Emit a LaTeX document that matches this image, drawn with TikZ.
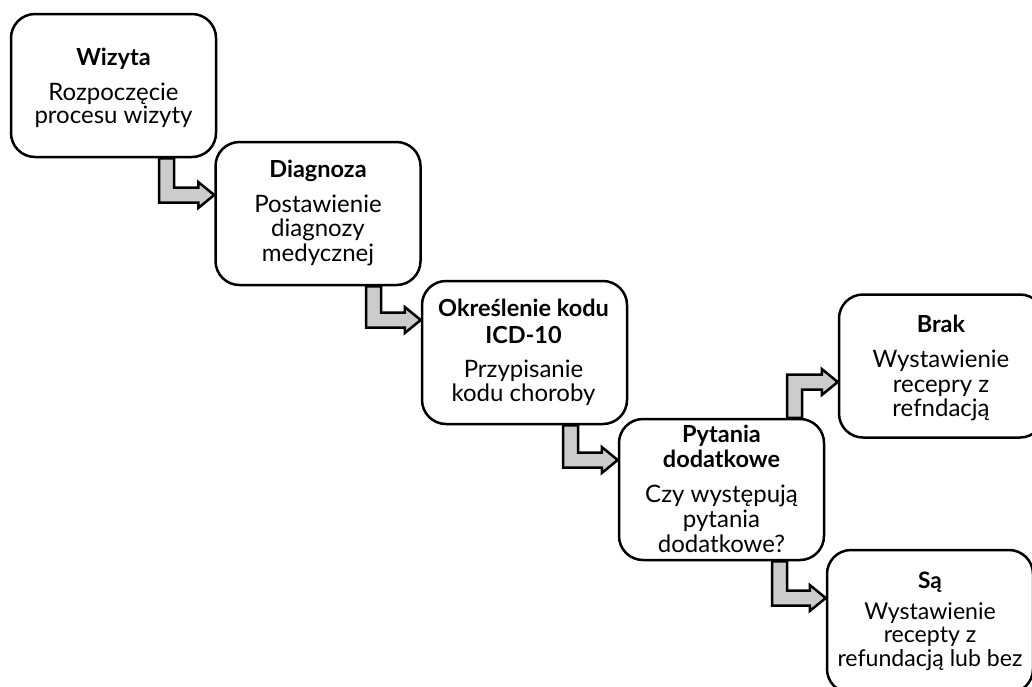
\documentclass[tikz,border=0pt]{standalone}
\usepackage{fontspec}
\setmainfont{Lato}
\usetikzlibrary{calc}
\newcommand\hdf{\bfseries\fontsize{23.5}{26}\selectfont}
\newcommand\bdf{\mdseries\fontsize{24}{24.5}\selectfont}
\newcommand\hdfs{\bfseries\fontsize{22.6}{25}\selectfont}
\newcommand\bdfs{\mdseries\fontsize{23.1}{23.6}\selectfont}
\newcommand\dnarrow[4]{%
 \draw[blockarrow] let \p1=(#1.south), \p2=(#2.west), \p3=(#3,#4) in
 (\x3,\y1) -- ({\x3+15pt},\y1) -- ({\x3+15pt},{\y3+7.5pt}) -- ({\x2-16pt},{\y3+7.5pt})
 -- ({\x2-16pt},{\y3+13pt}) -- (\x2,\y3) -- ({\x2-16pt},{\y3-13pt}) -- ({\x2-16pt},{\y3-7.5pt})
 -- (\x3,{\y3-7.5pt}) -- cycle;}
\newcommand\uparrowblk[4]{%
 \draw[blockarrow] let \p1=(#1.north), \p2=(#2.west), \p3=(#3,#4) in
 (\x3,\y1) -- (\x3,{\y3+7.5pt}) -- ({\x2-16pt},{\y3+7.5pt}) -- ({\x2-16pt},{\y3+13pt})
 -- (\x2,\y3) -- ({\x2-16pt},{\y3-13pt}) -- ({\x2-16pt},{\y3-7.5pt})
 -- ({\x3+15pt},{\y3-7.5pt}) -- ({\x3+15pt},\y1) -- cycle;}
\begin{document}
\begin{tikzpicture}[x=1pt,y=-1pt,
 box/.style={draw=black, line width=2.5pt, rounded corners=24pt, fill=white,
   minimum width=205pt, minimum height=143pt, inner sep=0pt},
 hd/.style={font=\hdf, anchor=base, inner sep=0pt},
 bd/.style={font=\bdf, anchor=base, inner sep=0pt},
 hds/.style={font=\hdfs, anchor=base, inner sep=0pt},
 bds/.style={font=\bdfs, anchor=base, inner sep=0pt},
 blockarrow/.style={draw=black, line width=2.5pt, fill=gray!40, line join=miter}]
\useasboundingbox (0,0) rectangle (1032,686);
\clip (0,0) rectangle (1032,686);
% boxes
\node[box] (wiz) at (113.5,85.5) {};
\node[box] (diag) at (318,213.5) {};
\node[box] (icd) at (524.5,352.5) {};
\node[box, minimum height=141pt] (pyt) at (721.5,489.5) {};
\node[box] (brak) at (941.5,366) {};
\node[box, minimum width=206pt] (sa) at (930,621.5) {};
% texts
\node[hd] (wizh) at (113.5,65) {Wizyta};
\node[bd] (wiz1) at (113.5,100) {Rozpoczęcie};
\node[bd] (wiz2) at (113.5,123.5) {procesu wizyty};
\node[hd] (diagh) at (318,177.5) {Diagnoza};
\node[bd] (diag1) at (318,212.3) {Postawienie};
\node[bd] (diag2) at (318,236.8) {diagnozy};
\node[bd] (diag3) at (318,261.3) {medycznej};
\node[hd] (icdh1) at (523.5,316) {Określenie kodu};
\node[hd] (icdh2) at (523.5,343) {ICD-10};
\node[bd] (icd1) at (523.5,377.3) {Przypisanie};
\node[bd] (icd2) at (523.5,401.8) {kodu choroby};
\node[hd] (pyth1) at (721.5,442.5) {Pytania};
\node[hd] (pyth2) at (721.5,467.5) {dodatkowe};
\node[bd] (pyt1) at (721.5,502.5) {Czy występują};
\node[bd] (pyt2) at (721.5,527.5) {pytania};
\node[bd] (pyt3) at (721.5,552.5) {dodatkowe?};
\node[hd] (brakh) at (941,332.3) {Brak};
\node[bd] (brak1) at (941,367.3) {Wystawienie};
\node[bd] (brak2) at (941,392) {recepry z};
\node[bd] (brak3) at (941,416.7) {refndacją};
\node[hds] (sah) at (930,588.3) {Są};
\node[bds] (sa1) at (930,619.3) {Wystawienie};
\node[bds] (sa2) at (930,642.7) {recepty z};
\node[bds] (sa3) at (930,666) {refundacją lub bez};
% block arrows
\dnarrow{wiz}{diag}{159}{195}
\dnarrow{diag}{icd}{366}{320}
\dnarrow{icd}{pyt}{563}{460}
\dnarrow{pyt}{sa}{772}{598}
\uparrowblk{pyt}{brak}{787}{382}
\end{tikzpicture}
\end{document}
